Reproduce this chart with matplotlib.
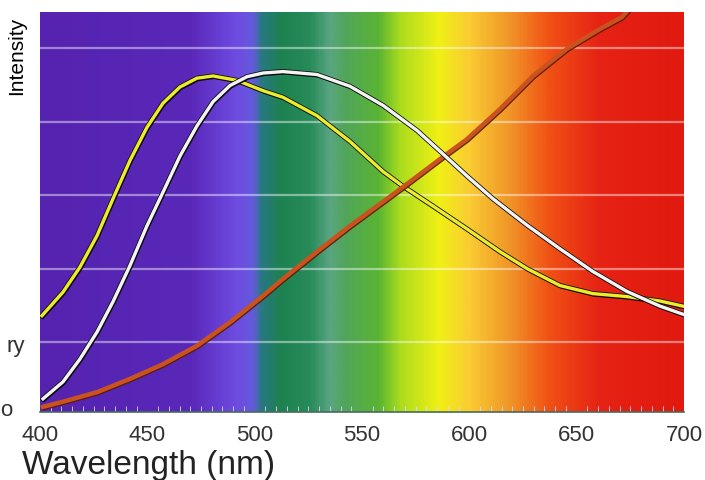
import matplotlib
matplotlib.use("Agg")
import matplotlib.pyplot as plt
import matplotlib.patheffects as pe
import numpy as np
from matplotlib.colors import LinearSegmentedColormap

plt.rcParams["font.family"] = ["Liberation Sans", "DejaVu Sans"]

# 파장 (nm) / 상대 강도
yellow_nm = [400.9, 410.7, 418.6, 426.6, 434.0, 441.9, 449.8, 457.3, 465.2, 473.1,
             480.6, 491.8, 503.9, 513.2, 529.0, 544.4, 559.8, 569.1, 583.1, 598.9,
             614.3, 626.9, 642.2, 657.6, 673.4, 688.8, 699.5]
yellow_val = [1.36, 1.68, 2.02, 2.45, 2.95, 3.47, 3.92, 4.25, 4.47, 4.59,
              4.62, 4.56, 4.42, 4.33, 4.08, 3.73, 3.32, 3.12, 2.85, 2.54,
              2.23, 2.00, 1.77, 1.66, 1.62, 1.56, 1.49]

white_nm = [401.4, 410.7, 418.6, 426.6, 434.0, 441.9, 449.8, 457.3, 465.2, 473.1,
            480.6, 488.5, 496.4, 503.9, 513.2, 529.0, 544.4, 559.8, 575.6, 587.7,
            598.9, 611.0, 626.9, 642.2, 657.6, 673.4, 688.8, 699.5]
white_val = [0.23, 0.46, 0.77, 1.14, 1.55, 2.04, 2.58, 3.04, 3.53, 3.94,
             4.27, 4.49, 4.61, 4.66, 4.68, 4.64, 4.48, 4.22, 3.88, 3.56,
             3.26, 2.95, 2.59, 2.27, 1.96, 1.69, 1.49, 1.38]

orange_nm = [401.4, 410.7, 426.6, 441.9, 457.3, 473.1, 488.5, 503.9, 513.2, 529.0,
             544.4, 559.8, 569.1, 587.7, 598.9, 614.3, 629.7, 645.5, 660.9, 671.1, 675.0]
orange_val = [0.12, 0.19, 0.32, 0.50, 0.70, 0.95, 1.27, 1.63, 1.86, 2.23,
              2.58, 2.91, 3.11, 3.52, 3.76, 4.17, 4.62, 4.99, 5.26, 5.42, 5.55]

xticks = [400, 450, 500, 550, 600, 650, 700]
grid_levels = [1, 2, 3, 4, 5]

# 배경 스펙트럼 색상 (nm 기준)
spec_nm = [400, 470, 491, 499, 503, 512, 526, 535, 542, 558, 568, 586, 600, 619, 638, 661, 700]
spec_rgb = [(85, 35, 175), (90, 40, 185), (110, 75, 225), (100, 90, 220), (40, 120, 130),
            (30, 130, 80), (40, 140, 90), (90, 165, 130), (80, 165, 90), (90, 180, 50),
            (170, 220, 30), (240, 240, 20), (250, 205, 50), (240, 150, 40), (240, 80, 20),
            (230, 35, 20), (225, 25, 15)]

XMIN, XMAX = 400, 700
YMIN, YMAX = 0.05, 5.49

fig = plt.figure(figsize=(7.05, 4.81), dpi=100)
ax = fig.add_axes([40 / 705, 68 / 481, 644 / 705, 400 / 481])

stops = [((n - XMIN) / (XMAX - XMIN), tuple(c / 255 for c in rgb)) for n, rgb in zip(spec_nm, spec_rgb)]
cmap = LinearSegmentedColormap.from_list("spectrum", stops)
grad = np.linspace(0, 1, 600).reshape(1, -1)
ax.imshow(grad, cmap=cmap, aspect="auto", extent=[XMIN, XMAX, YMIN, YMAX], zorder=0)

for lv in grid_levels:
    ax.axhline(lv, color="white", alpha=0.45, lw=1.6, zorder=1)

# 검은 테두리 + 아래쪽 그림자
edge = [pe.SimpleLineShadow(offset=(0.7, -1.0), shadow_color="black", alpha=0.9),
        pe.withStroke(linewidth=3.6, foreground="#111111")]
ax.plot(yellow_nm, yellow_val, color="#ecec2a", lw=2.4, zorder=3,
        solid_joinstyle="round", path_effects=edge)
ax.plot(orange_nm, orange_val, color="#c9521f", lw=3.2, zorder=4, solid_joinstyle="round",
        path_effects=[pe.SimpleLineShadow(offset=(0.6, -0.8), shadow_color="#5a1a05", alpha=0.9), pe.Normal()])
ax.plot(white_nm, white_val, color="#f4f4f4", lw=2.4, zorder=5,
        solid_joinstyle="round", path_effects=edge)

ax.set_xlim(XMIN, XMAX)
ax.set_ylim(YMIN, YMAX)
ax.set_xticks(xticks)
ax.set_xticklabels([str(t) for t in xticks], fontsize=16, color="#333333")
ax.set_xticks(range(405, 700, 5), minor=True)
ax.tick_params(axis="x", which="major", length=0, pad=9)
ax.tick_params(axis="x", which="minor", direction="in", length=4, color="#d8d8ff")
ax.set_yticks([])
for side in ["top", "left", "right"]:
    ax.spines[side].set_visible(False)
ax.spines["bottom"].set_color("#4a6a5a")
ax.spines["bottom"].set_linewidth(1.2)

fig.text(22 / 705, 1 - 474 / 481, "Wavelength (nm)", fontsize=24, color="#222222",
         ha="left", va="baseline")
fig.text(17 / 705, 1 - 56 / 481, "Intensity", fontsize=15, rotation=90,
         ha="center", va="center", color="black")
fig.text(7 / 705, 1 - 347 / 481, "ry", fontsize=16, color="#333333", ha="left", va="center")
fig.text(0, 1 - 410 / 481, "o", fontsize=16, color="#333333", ha="left", va="center")

fig.savefig("out.png", dpi=100)
